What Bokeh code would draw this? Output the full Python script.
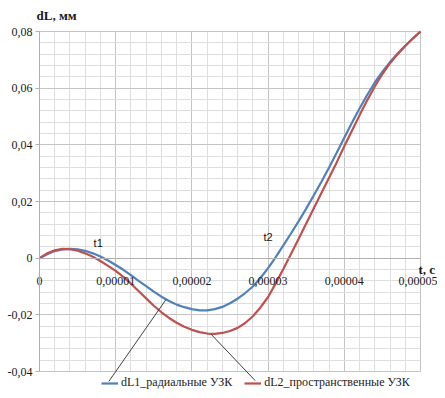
import numpy as np
from bokeh.plotting import figure
from bokeh.models import (FixedTicker, CustomJSTickFormatter, Label, Legend,
                          LegendItem, Arrow, Range1d, BoxAnnotation)
from bokeh.embed import file_html
from bokeh.resources import INLINE

# time in units of 1e-5 s
t_e5 = [0.0, 0.1, 0.2, 0.3, 0.4, 0.5, 0.6, 0.7, 0.8, 0.9,
        1.0, 1.1, 1.2, 1.3, 1.4, 1.5, 1.6, 1.7, 1.8, 1.9,
        2.0, 2.1, 2.2, 2.3, 2.4, 2.5, 2.6, 2.7, 2.8, 2.9,
        3.0, 3.1, 3.2, 3.3, 3.4, 3.5, 3.6, 3.7, 3.8, 3.9,
        4.0, 4.1, 4.2, 4.3, 4.4, 4.5, 4.6, 4.7, 4.8, 4.9, 5.0]
dl1 = [0.0000, 0.0014, 0.0025, 0.0031, 0.0033, 0.0031, 0.0026, 0.0017, 0.0006, -0.0008,
       -0.0024, -0.0041, -0.0060, -0.0080, -0.0099, -0.0118, -0.0136, -0.0151, -0.0164, -0.0173,
       -0.0180, -0.0184, -0.0184, -0.0180, -0.0172, -0.0159, -0.0143, -0.0123, -0.0100, -0.0070,
       -0.0035, 0.0004, 0.0045, 0.0087, 0.0130, 0.0175, 0.0222, 0.0270, 0.0320, 0.0372,
       0.0425, 0.0478, 0.0528, 0.0576, 0.0620, 0.0658, 0.0692, 0.0722, 0.0750, 0.0776, 0.0800]
dl2 = [0.0000, 0.0017, 0.0028, 0.0033, 0.0032, 0.0026, 0.0017, 0.0005, -0.0010, -0.0027,
       -0.0045, -0.0066, -0.0090, -0.0116, -0.0142, -0.0168, -0.0191, -0.0211, -0.0228, -0.0242,
       -0.0253, -0.0261, -0.0266, -0.0267, -0.0264, -0.0257, -0.0246, -0.0229, -0.0205, -0.0174,
       -0.0137, -0.0089, -0.0038, 0.0015, 0.0068, 0.0122, 0.0176, 0.0230, 0.0284, 0.0338,
       0.0395, 0.0450, 0.0504, 0.0557, 0.0606, 0.0650, 0.0688, 0.0720, 0.0749, 0.0775, 0.0800]
series_names = ["dL1_радиальные УЗК", "dL2_пространственные УЗК"]
x_ticks = [0.0, 1e-5, 2e-5, 3e-5, 4e-5, 5e-5]
y_ticks = [-0.04, -0.02, 0.0, 0.02, 0.04, 0.06, 0.08]
y_title = "dL, мм"
x_title = "t, c"
marker_texts = ["t1", "t2"]
marker_pos = [(0.77e-5, 0.0052), (3.0e-5, 0.0073)]
# leader lines from curves to legend entries: (t_curve, y_curve, t_legend, y_legend)
leaders = [(1.66e-5, -0.0146, 0.91e-5, -0.0435),
           (2.25e-5, -0.0268, 2.83e-5, -0.0432)]

t = [v * 1e-5 for v in t_e5]

BLUE = "#4f81bd"
RED = "#c0504d"
SERIF = "Liberation Serif"
TXT = "#1a1a1a"

# Layout: the frame fills the whole canvas; the data box (0..5e-5, -0.04..0.08)
# sits 39 px from the left, 17 px from the right, 31 px from the top, 19 px from the bottom.
W, H = 437, 390
X_LO, X_HI = 0.0, 5e-5
Y_LO, Y_HI = -0.04, 0.08
PL, PR, PT, PB = 39, 17, 31, 19
sx = (X_HI - X_LO) / (W - PL - PR)
sy = (Y_HI - Y_LO) / (H - PT - PB)

p = figure(width=W, height=H, output_backend="svg", toolbar_location=None,
           x_range=Range1d(X_LO - PL * sx, X_HI + PR * sx),
           y_range=Range1d(Y_LO - PB * sy, Y_HI + PT * sy),
           min_border_left=0, min_border_right=0, min_border_top=0,
           min_border_bottom=0)
p.background_fill_color = "white"
p.border_fill_color = "white"
p.outline_line_color = None

xt = FixedTicker(ticks=x_ticks, minor_ticks=list(np.round(np.arange(0, 5.0001e-5, 0.2e-5), 12)))
yt = FixedTicker(ticks=y_ticks, minor_ticks=list(np.round(np.arange(-0.04, 0.08001, 0.004), 6)))

p.xaxis.ticker = xt
p.yaxis.ticker = yt
p.xgrid.ticker = xt
p.ygrid.ticker = yt
for g in (p.xgrid, p.ygrid):
    g.grid_line_color = "#c4c4c4"
    g.grid_line_width = 1
    g.minor_grid_line_color = "#dedede"
    g.minor_grid_line_width = 1

grid_cls = type(p.xgrid[0])
if "cross_bounds" in grid_cls.properties():
    p.xgrid.cross_bounds = (Y_LO, Y_HI)
    p.ygrid.cross_bounds = (X_LO, X_HI)
else:
    p.add_layout(BoxAnnotation(top=Y_LO - 0.0002, fill_color="white", fill_alpha=1,
                               line_color=None, level="underlay"))
    p.add_layout(BoxAnnotation(right=X_LO - 1e-7, fill_color="white", fill_alpha=1,
                               line_color=None, level="underlay"))
    p.add_layout(BoxAnnotation(left=X_HI + 1e-7, fill_color="white", fill_alpha=1,
                               line_color=None, level="underlay"))
    p.add_layout(BoxAnnotation(bottom=Y_HI + 0.0002, fill_color="white", fill_alpha=1,
                               line_color=None, level="underlay"))

p.xaxis.formatter = CustomJSTickFormatter(
    code="if (Math.abs(tick) < 1e-12) return '0'; return tick.toFixed(5).replace('.', ',');")
p.yaxis.formatter = CustomJSTickFormatter(
    code="if (Math.abs(tick) < 1e-9) return '0'; return tick.toFixed(2).replace('.', ',');")

p.xaxis.fixed_location = 0
p.yaxis.fixed_location = 0
p.xaxis.bounds = (X_LO, X_HI)
p.yaxis.bounds = (Y_LO, Y_HI)
for ax in (p.xaxis, p.yaxis):
    ax.axis_line_color = "#b0b0b0"
    ax.major_tick_line_color = "#b0b0b0"
    ax.minor_tick_line_color = None
    ax.major_label_text_font = SERIF
    ax.major_label_text_font_size = "12px"
    ax.major_label_text_color = TXT
p.xaxis.major_tick_in = 0
p.xaxis.major_tick_out = 0
p.xaxis.major_label_standoff = 15
p.yaxis.major_tick_in = 0
p.yaxis.major_tick_out = 4
p.yaxis.major_label_standoff = 3

r1 = p.line(t, dl1, line_color=BLUE, line_width=2.2)
r2 = p.line(t, dl2, line_color=RED, line_width=2.2)

for (xs, ys, xe, ye) in leaders:
    p.add_layout(Arrow(end=None, x_start=xs, y_start=ys, x_end=xe, y_end=ye,
                       line_color="#404040", line_width=1))

legend = Legend(items=[LegendItem(label=series_names[0], renderers=[r1]),
                       LegendItem(label=series_names[1], renderers=[r2])],
                orientation="horizontal", location=(101, 0),
                padding=0, margin=0, spacing=12, label_standoff=3,
                glyph_width=17, glyph_height=14, label_height=14,
                border_line_color=None, background_fill_alpha=0,
                label_text_font=SERIF, label_text_font_size="12px",
                label_text_color=TXT)
p.add_layout(legend)

p.add_layout(Label(x=X_LO, y=Y_HI, x_offset=-3, y_offset=9, text=y_title,
                   text_font=SERIF, text_font_size="13px", text_font_style="bold",
                   text_color=TXT, text_baseline="bottom", text_align="left"))
p.add_layout(Label(x=X_HI, y=0, x_offset=-2, y_offset=-4, text=x_title,
                   text_font=SERIF, text_font_size="13px", text_font_style="bold",
                   text_color=TXT, text_baseline="top", text_align="left"))
for txt, (mx, my) in zip(marker_texts, marker_pos):
    p.add_layout(Label(x=mx, y=my, text=txt, text_font="Liberation Sans",
                       text_font_size="11px", text_color="#111111",
                       text_align="center", text_baseline="middle"))

open("out.html", "w").write(file_html(p, INLINE))
